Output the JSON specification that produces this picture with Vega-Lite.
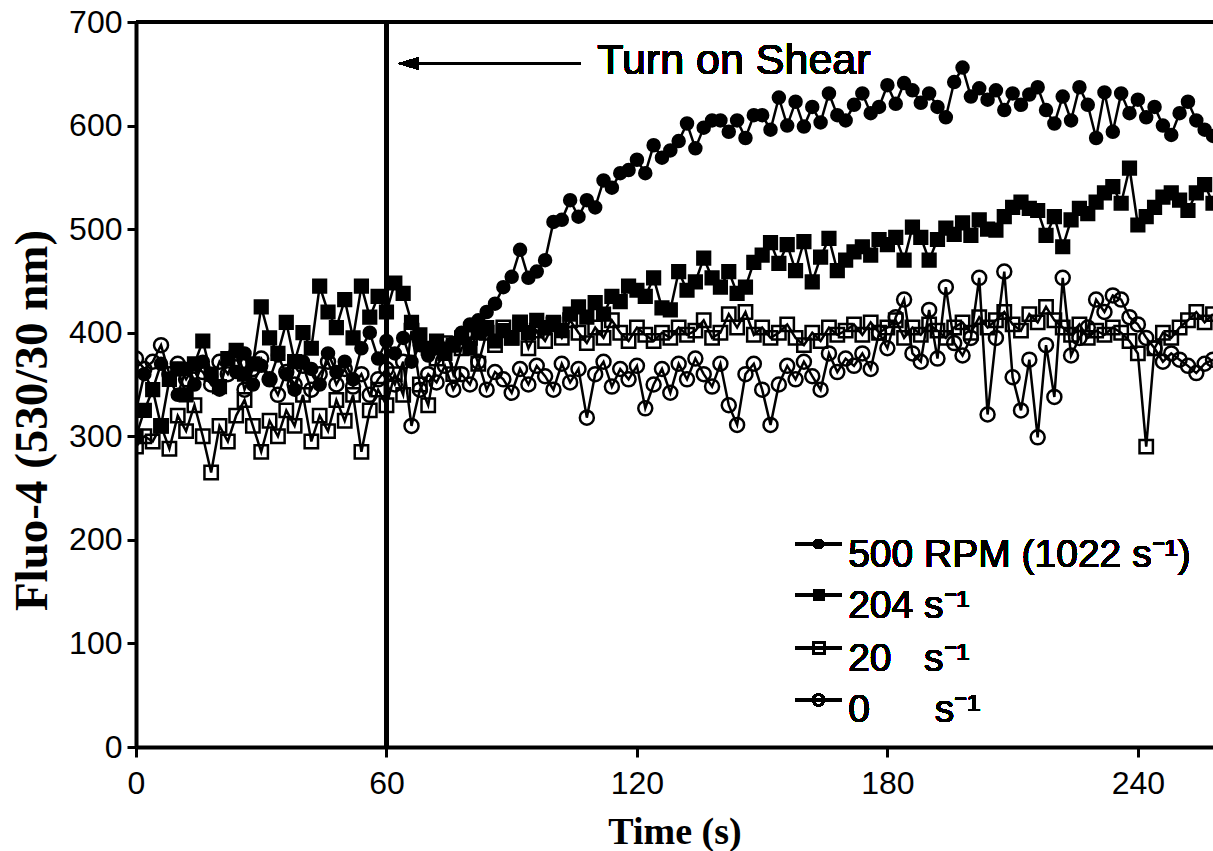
{
  "$schema": "https://vega.github.io/schema/vega-lite/v6.json",
  "width": 1077,
  "height": 725,
  "autosize": "none",
  "padding": {"left": 136, "top": 22, "right": 0, "bottom": 104},
  "background": "white",
  "config": {
    "view": {"stroke": null},
    "axis": {"grid": false, "domainColor": "black", "tickColor": "black", "labelColor": "black", "titleColor": "black"}
  },
  "data": {"values": [
{"s":"A","t":0,"v":325},{"s":"A","t":2,"v":360},{"s":"A","t":4,"v":345},{"s":"A","t":6,"v":370},{"s":"A","t":8,"v":355},{"s":"A","t":10,"v":340},{"s":"A","t":12,"v":365},{"s":"A","t":14,"v":350},{"s":"A","t":16,"v":372},{"s":"A","t":18,"v":358},{"s":"A","t":20,"v":345},{"s":"A","t":22,"v":375},{"s":"A","t":24,"v":362},{"s":"A","t":26,"v":380},{"s":"A","t":28,"v":350},{"s":"A","t":30,"v":368},{"s":"A","t":32,"v":355},{"s":"A","t":34,"v":378},{"s":"A","t":36,"v":360},{"s":"A","t":38,"v":345},{"s":"A","t":40,"v":372},{"s":"A","t":42,"v":365},{"s":"A","t":44,"v":350},{"s":"A","t":46,"v":380},{"s":"A","t":48,"v":362},{"s":"A","t":50,"v":372},{"s":"A","t":52,"v":355},{"s":"A","t":54,"v":385},{"s":"A","t":56,"v":400},{"s":"A","t":58,"v":375},
{"s":"A","t":60,"v":392},{"s":"A","t":62,"v":380},{"s":"A","t":64,"v":395},{"s":"A","t":66,"v":372},{"s":"A","t":68,"v":388},{"s":"A","t":70,"v":378},{"s":"A","t":72,"v":385},{"s":"A","t":74,"v":380},{"s":"A","t":76,"v":390},{"s":"A","t":78,"v":400},{"s":"A","t":80,"v":408},{"s":"A","t":82,"v":412},{"s":"A","t":84,"v":420},{"s":"A","t":86,"v":428},{"s":"A","t":88,"v":444},{"s":"A","t":90,"v":454},{"s":"A","t":92,"v":480},{"s":"A","t":94,"v":453},{"s":"A","t":96,"v":459},{"s":"A","t":98,"v":470},{"s":"A","t":100,"v":507},{"s":"A","t":102,"v":509},{"s":"A","t":104,"v":528},{"s":"A","t":106,"v":512},{"s":"A","t":108,"v":528},{"s":"A","t":110,"v":521},{"s":"A","t":112,"v":547},{"s":"A","t":114,"v":540},{"s":"A","t":116,"v":554},{"s":"A","t":118,"v":557},
{"s":"A","t":120,"v":567},{"s":"A","t":122,"v":554},{"s":"A","t":124,"v":581},{"s":"A","t":126,"v":569},{"s":"A","t":128,"v":576},{"s":"A","t":130,"v":585},{"s":"A","t":132,"v":602},{"s":"A","t":134,"v":578},{"s":"A","t":136,"v":598},{"s":"A","t":138,"v":605},{"s":"A","t":140,"v":605},{"s":"A","t":142,"v":594},{"s":"A","t":144,"v":605},{"s":"A","t":146,"v":588},{"s":"A","t":148,"v":610},{"s":"A","t":150,"v":610},{"s":"A","t":152,"v":596},{"s":"A","t":154,"v":627},{"s":"A","t":156,"v":600},{"s":"A","t":158,"v":623},{"s":"A","t":160,"v":599},{"s":"A","t":162,"v":618},{"s":"A","t":164,"v":603},{"s":"A","t":166,"v":631},{"s":"A","t":168,"v":610},{"s":"A","t":170,"v":605},{"s":"A","t":172,"v":620},{"s":"A","t":174,"v":631},{"s":"A","t":176,"v":612},{"s":"A","t":178,"v":618},
{"s":"A","t":180,"v":639},{"s":"A","t":182,"v":621},{"s":"A","t":184,"v":641},{"s":"A","t":186,"v":634},{"s":"A","t":188,"v":622},{"s":"A","t":190,"v":631},{"s":"A","t":192,"v":618},{"s":"A","t":194,"v":608},{"s":"A","t":196,"v":642},{"s":"A","t":198,"v":656},{"s":"A","t":200,"v":628},{"s":"A","t":202,"v":636},{"s":"A","t":204,"v":625},{"s":"A","t":206,"v":634},{"s":"A","t":208,"v":615},{"s":"A","t":210,"v":631},{"s":"A","t":212,"v":620},{"s":"A","t":214,"v":630},{"s":"A","t":216,"v":637},{"s":"A","t":218,"v":615},{"s":"A","t":220,"v":602},{"s":"A","t":222,"v":628},{"s":"A","t":224,"v":605},{"s":"A","t":226,"v":637},{"s":"A","t":228,"v":620},{"s":"A","t":230,"v":588},{"s":"A","t":232,"v":632},{"s":"A","t":234,"v":594},{"s":"A","t":236,"v":631},{"s":"A","t":238,"v":612},
{"s":"A","t":240,"v":625},{"s":"A","t":242,"v":608},{"s":"A","t":244,"v":618},{"s":"A","t":246,"v":600},{"s":"A","t":248,"v":591},{"s":"A","t":250,"v":612},{"s":"A","t":252,"v":623},{"s":"A","t":254,"v":605},{"s":"A","t":256,"v":596},{"s":"A","t":258,"v":590},
{"s":"B","t":0,"v":300},{"s":"B","t":2,"v":325},{"s":"B","t":4,"v":345},{"s":"B","t":6,"v":310},{"s":"B","t":8,"v":355},{"s":"B","t":10,"v":365},{"s":"B","t":12,"v":340},{"s":"B","t":14,"v":370},{"s":"B","t":16,"v":392},{"s":"B","t":18,"v":360},{"s":"B","t":20,"v":348},{"s":"B","t":22,"v":375},{"s":"B","t":24,"v":383},{"s":"B","t":26,"v":360},{"s":"B","t":28,"v":370},{"s":"B","t":30,"v":425},{"s":"B","t":32,"v":395},{"s":"B","t":34,"v":380},{"s":"B","t":36,"v":410},{"s":"B","t":38,"v":372},{"s":"B","t":40,"v":400},{"s":"B","t":42,"v":385},{"s":"B","t":44,"v":445},{"s":"B","t":46,"v":420},{"s":"B","t":48,"v":405},{"s":"B","t":50,"v":432},{"s":"B","t":52,"v":395},{"s":"B","t":54,"v":445},{"s":"B","t":56,"v":415},{"s":"B","t":58,"v":435},
{"s":"B","t":60,"v":420},{"s":"B","t":62,"v":448},{"s":"B","t":64,"v":438},{"s":"B","t":66,"v":410},{"s":"B","t":68,"v":398},{"s":"B","t":70,"v":385},{"s":"B","t":72,"v":392},{"s":"B","t":74,"v":380},{"s":"B","t":76,"v":388},{"s":"B","t":78,"v":395},{"s":"B","t":80,"v":385},{"s":"B","t":82,"v":400},{"s":"B","t":84,"v":405},{"s":"B","t":86,"v":392},{"s":"B","t":88,"v":402},{"s":"B","t":90,"v":395},{"s":"B","t":92,"v":408},{"s":"B","t":94,"v":400},{"s":"B","t":96,"v":412},{"s":"B","t":98,"v":405},{"s":"B","t":100,"v":410},{"s":"B","t":102,"v":402},{"s":"B","t":104,"v":418},{"s":"B","t":106,"v":425},{"s":"B","t":108,"v":415},{"s":"B","t":110,"v":429},{"s":"B","t":112,"v":418},{"s":"B","t":114,"v":435},{"s":"B","t":116,"v":430},{"s":"B","t":118,"v":445},
{"s":"B","t":120,"v":441},{"s":"B","t":122,"v":435},{"s":"B","t":124,"v":453},{"s":"B","t":126,"v":424},{"s":"B","t":128,"v":422},{"s":"B","t":130,"v":459},{"s":"B","t":132,"v":441},{"s":"B","t":134,"v":449},{"s":"B","t":136,"v":472},{"s":"B","t":138,"v":453},{"s":"B","t":140,"v":444},{"s":"B","t":142,"v":459},{"s":"B","t":144,"v":438},{"s":"B","t":146,"v":444},{"s":"B","t":148,"v":468},{"s":"B","t":150,"v":475},{"s":"B","t":152,"v":487},{"s":"B","t":154,"v":467},{"s":"B","t":156,"v":485},{"s":"B","t":158,"v":460},{"s":"B","t":160,"v":488},{"s":"B","t":162,"v":449},{"s":"B","t":164,"v":473},{"s":"B","t":166,"v":491},{"s":"B","t":168,"v":460},{"s":"B","t":170,"v":470},{"s":"B","t":172,"v":478},{"s":"B","t":174,"v":483},{"s":"B","t":176,"v":475},{"s":"B","t":178,"v":490},
{"s":"B","t":180,"v":485},{"s":"B","t":182,"v":492},{"s":"B","t":184,"v":470},{"s":"B","t":186,"v":502},{"s":"B","t":188,"v":492},{"s":"B","t":190,"v":470},{"s":"B","t":192,"v":490},{"s":"B","t":194,"v":501},{"s":"B","t":196,"v":495},{"s":"B","t":198,"v":506},{"s":"B","t":200,"v":494},{"s":"B","t":202,"v":509},{"s":"B","t":204,"v":500},{"s":"B","t":206,"v":499},{"s":"B","t":208,"v":512},{"s":"B","t":210,"v":521},{"s":"B","t":212,"v":526},{"s":"B","t":214,"v":520},{"s":"B","t":216,"v":518},{"s":"B","t":218,"v":494},{"s":"B","t":220,"v":512},{"s":"B","t":222,"v":483},{"s":"B","t":224,"v":509},{"s":"B","t":226,"v":520},{"s":"B","t":228,"v":515},{"s":"B","t":230,"v":526},{"s":"B","t":232,"v":535},{"s":"B","t":234,"v":541},{"s":"B","t":236,"v":525},{"s":"B","t":238,"v":559},
{"s":"B","t":240,"v":504},{"s":"B","t":242,"v":512},{"s":"B","t":244,"v":521},{"s":"B","t":246,"v":531},{"s":"B","t":248,"v":535},{"s":"B","t":250,"v":528},{"s":"B","t":252,"v":518},{"s":"B","t":254,"v":535},{"s":"B","t":256,"v":543},{"s":"B","t":258,"v":525},
{"s":"C","t":0,"v":290},{"s":"C","t":2,"v":300},{"s":"C","t":4,"v":295},{"s":"C","t":6,"v":310},{"s":"C","t":8,"v":288},{"s":"C","t":10,"v":320},{"s":"C","t":12,"v":305},{"s":"C","t":14,"v":330},{"s":"C","t":16,"v":300},{"s":"C","t":18,"v":265},{"s":"C","t":20,"v":310},{"s":"C","t":22,"v":295},{"s":"C","t":24,"v":320},{"s":"C","t":26,"v":335},{"s":"C","t":28,"v":310},{"s":"C","t":30,"v":285},{"s":"C","t":32,"v":315},{"s":"C","t":34,"v":300},{"s":"C","t":36,"v":325},{"s":"C","t":38,"v":310},{"s":"C","t":40,"v":340},{"s":"C","t":42,"v":295},{"s":"C","t":44,"v":320},{"s":"C","t":46,"v":305},{"s":"C","t":48,"v":335},{"s":"C","t":50,"v":315},{"s":"C","t":52,"v":340},{"s":"C","t":54,"v":285},{"s":"C","t":56,"v":325},{"s":"C","t":58,"v":345},
{"s":"C","t":60,"v":330},{"s":"C","t":62,"v":360},{"s":"C","t":64,"v":340},{"s":"C","t":66,"v":402},{"s":"C","t":68,"v":350},{"s":"C","t":70,"v":330},{"s":"C","t":72,"v":375},{"s":"C","t":74,"v":390},{"s":"C","t":76,"v":360},{"s":"C","t":78,"v":385},{"s":"C","t":80,"v":395},{"s":"C","t":82,"v":370},{"s":"C","t":84,"v":400},{"s":"C","t":86,"v":388},{"s":"C","t":88,"v":405},{"s":"C","t":90,"v":395},{"s":"C","t":92,"v":410},{"s":"C","t":94,"v":385},{"s":"C","t":96,"v":402},{"s":"C","t":98,"v":392},{"s":"C","t":100,"v":408},{"s":"C","t":102,"v":395},{"s":"C","t":104,"v":412},{"s":"C","t":106,"v":400},{"s":"C","t":108,"v":390},{"s":"C","t":110,"v":405},{"s":"C","t":112,"v":395},{"s":"C","t":114,"v":412},{"s":"C","t":116,"v":400},{"s":"C","t":118,"v":392},
{"s":"C","t":120,"v":405},{"s":"C","t":122,"v":398},{"s":"C","t":124,"v":392},{"s":"C","t":126,"v":400},{"s":"C","t":128,"v":395},{"s":"C","t":130,"v":405},{"s":"C","t":132,"v":398},{"s":"C","t":134,"v":402},{"s":"C","t":136,"v":412},{"s":"C","t":138,"v":395},{"s":"C","t":140,"v":400},{"s":"C","t":142,"v":418},{"s":"C","t":144,"v":405},{"s":"C","t":146,"v":420},{"s":"C","t":148,"v":398},{"s":"C","t":150,"v":405},{"s":"C","t":152,"v":395},{"s":"C","t":154,"v":400},{"s":"C","t":156,"v":408},{"s":"C","t":158,"v":395},{"s":"C","t":160,"v":388},{"s":"C","t":162,"v":400},{"s":"C","t":164,"v":392},{"s":"C","t":166,"v":405},{"s":"C","t":168,"v":398},{"s":"C","t":170,"v":402},{"s":"C","t":172,"v":408},{"s":"C","t":174,"v":398},{"s":"C","t":176,"v":410},{"s":"C","t":178,"v":400},
{"s":"C","t":180,"v":405},{"s":"C","t":182,"v":412},{"s":"C","t":184,"v":395},{"s":"C","t":186,"v":405},{"s":"C","t":188,"v":398},{"s":"C","t":190,"v":408},{"s":"C","t":192,"v":402},{"s":"C","t":194,"v":395},{"s":"C","t":196,"v":405},{"s":"C","t":198,"v":410},{"s":"C","t":200,"v":400},{"s":"C","t":202,"v":415},{"s":"C","t":204,"v":405},{"s":"C","t":206,"v":412},{"s":"C","t":208,"v":420},{"s":"C","t":210,"v":408},{"s":"C","t":212,"v":402},{"s":"C","t":214,"v":418},{"s":"C","t":216,"v":410},{"s":"C","t":218,"v":425},{"s":"C","t":220,"v":412},{"s":"C","t":222,"v":405},{"s":"C","t":224,"v":398},{"s":"C","t":226,"v":408},{"s":"C","t":228,"v":395},{"s":"C","t":230,"v":402},{"s":"C","t":232,"v":398},{"s":"C","t":234,"v":405},{"s":"C","t":236,"v":400},{"s":"C","t":238,"v":392},
{"s":"C","t":240,"v":380},{"s":"C","t":242,"v":290},{"s":"C","t":244,"v":385},{"s":"C","t":246,"v":400},{"s":"C","t":248,"v":395},{"s":"C","t":250,"v":405},{"s":"C","t":252,"v":412},{"s":"C","t":254,"v":420},{"s":"C","t":256,"v":410},{"s":"C","t":258,"v":418},
{"s":"D","t":0,"v":375},{"s":"D","t":2,"v":365},{"s":"D","t":4,"v":372},{"s":"D","t":6,"v":388},{"s":"D","t":8,"v":360},{"s":"D","t":10,"v":370},{"s":"D","t":12,"v":355},{"s":"D","t":14,"v":368},{"s":"D","t":16,"v":362},{"s":"D","t":18,"v":350},{"s":"D","t":20,"v":372},{"s":"D","t":22,"v":360},{"s":"D","t":24,"v":380},{"s":"D","t":26,"v":345},{"s":"D","t":28,"v":365},{"s":"D","t":30,"v":375},{"s":"D","t":32,"v":355},{"s":"D","t":34,"v":340},{"s":"D","t":36,"v":362},{"s":"D","t":38,"v":350},{"s":"D","t":40,"v":368},{"s":"D","t":42,"v":345},{"s":"D","t":44,"v":360},{"s":"D","t":46,"v":372},{"s":"D","t":48,"v":350},{"s":"D","t":50,"v":365},{"s":"D","t":52,"v":348},{"s":"D","t":54,"v":360},{"s":"D","t":56,"v":340},{"s":"D","t":58,"v":355},
{"s":"D","t":60,"v":365},{"s":"D","t":62,"v":350},{"s":"D","t":64,"v":372},{"s":"D","t":66,"v":310},{"s":"D","t":68,"v":345},{"s":"D","t":70,"v":360},{"s":"D","t":72,"v":352},{"s":"D","t":74,"v":368},{"s":"D","t":76,"v":345},{"s":"D","t":78,"v":360},{"s":"D","t":80,"v":350},{"s":"D","t":82,"v":372},{"s":"D","t":84,"v":345},{"s":"D","t":86,"v":362},{"s":"D","t":88,"v":355},{"s":"D","t":90,"v":342},{"s":"D","t":92,"v":365},{"s":"D","t":94,"v":350},{"s":"D","t":96,"v":368},{"s":"D","t":98,"v":358},{"s":"D","t":100,"v":345},{"s":"D","t":102,"v":370},{"s":"D","t":104,"v":352},{"s":"D","t":106,"v":365},{"s":"D","t":108,"v":318},{"s":"D","t":110,"v":360},{"s":"D","t":112,"v":372},{"s":"D","t":114,"v":348},{"s":"D","t":116,"v":365},{"s":"D","t":118,"v":355},
{"s":"D","t":120,"v":368},{"s":"D","t":122,"v":327},{"s":"D","t":124,"v":350},{"s":"D","t":126,"v":365},{"s":"D","t":128,"v":342},{"s":"D","t":130,"v":370},{"s":"D","t":132,"v":355},{"s":"D","t":134,"v":375},{"s":"D","t":136,"v":360},{"s":"D","t":138,"v":348},{"s":"D","t":140,"v":370},{"s":"D","t":142,"v":330},{"s":"D","t":144,"v":311},{"s":"D","t":146,"v":360},{"s":"D","t":148,"v":370},{"s":"D","t":150,"v":345},{"s":"D","t":152,"v":311},{"s":"D","t":154,"v":350},{"s":"D","t":156,"v":368},{"s":"D","t":158,"v":355},{"s":"D","t":160,"v":372},{"s":"D","t":162,"v":358},{"s":"D","t":164,"v":345},{"s":"D","t":166,"v":380},{"s":"D","t":168,"v":362},{"s":"D","t":170,"v":375},{"s":"D","t":172,"v":368},{"s":"D","t":174,"v":380},{"s":"D","t":176,"v":365},{"s":"D","t":178,"v":400},
{"s":"D","t":180,"v":385},{"s":"D","t":182,"v":415},{"s":"D","t":184,"v":432},{"s":"D","t":186,"v":380},{"s":"D","t":188,"v":372},{"s":"D","t":190,"v":422},{"s":"D","t":192,"v":375},{"s":"D","t":194,"v":444},{"s":"D","t":196,"v":390},{"s":"D","t":198,"v":378},{"s":"D","t":200,"v":395},{"s":"D","t":202,"v":453},{"s":"D","t":204,"v":321},{"s":"D","t":206,"v":395},{"s":"D","t":208,"v":459},{"s":"D","t":210,"v":357},{"s":"D","t":212,"v":325},{"s":"D","t":214,"v":374},{"s":"D","t":216,"v":299},{"s":"D","t":218,"v":388},{"s":"D","t":220,"v":338},{"s":"D","t":222,"v":453},{"s":"D","t":224,"v":378},{"s":"D","t":226,"v":395},{"s":"D","t":228,"v":405},{"s":"D","t":230,"v":432},{"s":"D","t":232,"v":420},{"s":"D","t":234,"v":436},{"s":"D","t":236,"v":432},{"s":"D","t":238,"v":415},
{"s":"D","t":240,"v":408},{"s":"D","t":242,"v":395},{"s":"D","t":244,"v":385},{"s":"D","t":246,"v":372},{"s":"D","t":248,"v":380},{"s":"D","t":250,"v":374},{"s":"D","t":252,"v":368},{"s":"D","t":254,"v":361},{"s":"D","t":256,"v":370},{"s":"D","t":258,"v":374}
  ]},
  "layer": [
    {
      "mark": {"type": "line", "color": "black", "strokeWidth": 2.5, "clip": true},
      "encoding": {
        "x": {"field": "t", "type": "quantitative", "scale": {"domain": [0, 258], "nice": false, "zero": false},
          "axis": {"values": [0, 60, 120, 180, 240], "tickSize": 10, "tickWidth": 3, "domainWidth": 4, "labelFont": "Liberation Sans", "labelFontSize": 32, "labelBaseline": "alphabetic", "labelPadding": 36, "labelFlush": false, "title": "Time (s)", "titleFont": "Liberation Serif", "titleFontWeight": "bold", "titleFontSize": 38, "titleBaseline": "alphabetic", "titleY": 96}},
        "y": {"field": "v", "type": "quantitative", "scale": {"domain": [0, 700], "nice": false},
          "axis": {"values": [0, 100, 200, 300, 400, 500, 600, 700], "tickSize": 9, "tickWidth": 3, "domainWidth": 4, "labelFont": "Liberation Sans", "labelFontSize": 32, "labelPadding": 5, "labelBaseline": "middle", "labelFlush": false, "title": "Fluo-4 (530/30 nm)", "titleFont": "Liberation Serif", "titleFontWeight": "bold", "titleFontSize": 47, "titleAngle": -90, "titleBaseline": "middle", "titleX": -104, "titleY": 398}},
        "detail": {"field": "s"}
      }
    },
    {
      "mark": {"type": "point", "filled": true, "stroke": "black", "strokeWidth": 2.5, "opacity": 1, "clip": true},
      "encoding": {
        "x": {"field": "t", "type": "quantitative"},
        "y": {"field": "v", "type": "quantitative"},
        "shape": {"field": "s", "type": "nominal", "scale": {"domain": ["A", "B", "C", "D"], "range": ["circle", "square", "square", "circle"]}, "legend": null},
        "fill": {"field": "s", "type": "nominal", "scale": {"domain": ["A", "B", "C", "D"], "range": ["black", "black", "transparent", "transparent"]}, "legend": null},
        "size": {"field": "s", "type": "nominal", "scale": {"domain": ["A", "B", "C", "D"], "range": [144, 196, 256, 256]}, "legend": null}
      }
    },
    {"mark": {"type": "rule", "color": "black", "strokeWidth": 3.5}, "encoding": {"x": {"datum": 60}}},
    {"mark": {"type": "rule", "color": "black", "strokeWidth": 4}, "encoding": {"y": {"datum": 700}}},
    {"mark": {"type": "rule", "color": "black", "strokeWidth": 3}, "encoding": {"x": {"datum": 65}, "x2": {"datum": 106.5}, "y": {"datum": 660}}},
    {"mark": {"type": "point", "shape": "M-1,0L1,-0.6L1,0.6Z", "filled": true, "color": "black", "opacity": 1, "size": 400}, "encoding": {"x": {"datum": 65.2}, "y": {"datum": 660}}},
    {"mark": {"type": "text", "text": "Turn on Shear", "font": "Liberation Sans", "fontSize": 43, "align": "left", "baseline": "alphabetic", "color": "black"}, "encoding": {"x": {"datum": 110.5}, "y": {"datum": 650}}},

    {"mark": {"type": "rule", "color": "black", "strokeWidth": 2.5}, "encoding": {"x": {"datum": 157.9}, "x2": {"datum": 169.1}, "y": {"datum": 196}}},
    {"mark": {"type": "point", "shape": "circle", "filled": true, "color": "black", "stroke": "black", "strokeWidth": 2, "opacity": 1, "size": 64}, "encoding": {"x": {"datum": 163.5}, "y": {"datum": 196}}},
    {"mark": {"type": "text", "text": "500 RPM (1022 s\u207b\u00b9)", "font": "Liberation Sans", "fontSize": 39, "align": "left", "baseline": "alphabetic", "color": "black"}, "encoding": {"x": {"datum": 170.6}, "y": {"datum": 173.8}}},

    {"mark": {"type": "rule", "color": "black", "strokeWidth": 2.5}, "encoding": {"x": {"datum": 157.9}, "x2": {"datum": 169.1}, "y": {"datum": 146.8}}},
    {"mark": {"type": "point", "shape": "square", "filled": true, "color": "black", "stroke": "black", "strokeWidth": 2, "opacity": 1, "size": 81}, "encoding": {"x": {"datum": 163.5}, "y": {"datum": 146.8}}},
    {"mark": {"type": "text", "text": "204 s\u207b\u00b9", "font": "Liberation Sans", "fontSize": 39, "align": "left", "baseline": "alphabetic", "color": "black"}, "encoding": {"x": {"datum": 170.6}, "y": {"datum": 124.6}}},

    {"mark": {"type": "rule", "color": "black", "strokeWidth": 2.5}, "encoding": {"x": {"datum": 157.9}, "x2": {"datum": 169.1}, "y": {"datum": 95.6}}},
    {"mark": {"type": "point", "shape": "square", "filled": false, "color": "black", "strokeWidth": 2, "opacity": 1, "size": 121}, "encoding": {"x": {"datum": 163.5}, "y": {"datum": 95.6}}},
    {"mark": {"type": "text", "text": "20\u00a0\u00a0\u00a0s\u207b\u00b9", "font": "Liberation Sans", "fontSize": 39, "align": "left", "baseline": "alphabetic", "color": "black"}, "encoding": {"x": {"datum": 170.6}, "y": {"datum": 73.4}}},

    {"mark": {"type": "rule", "color": "black", "strokeWidth": 2.5}, "encoding": {"x": {"datum": 157.9}, "x2": {"datum": 169.1}, "y": {"datum": 45.4}}},
    {"mark": {"type": "point", "shape": "circle", "filled": false, "color": "black", "strokeWidth": 2, "opacity": 1, "size": 121}, "encoding": {"x": {"datum": 163.5}, "y": {"datum": 45.4}}},
    {"mark": {"type": "text", "text": "0\u00a0\u00a0\u00a0\u00a0\u00a0\u00a0s\u207b\u00b9", "font": "Liberation Sans", "fontSize": 39, "align": "left", "baseline": "alphabetic", "color": "black"}, "encoding": {"x": {"datum": 170.6}, "y": {"datum": 24.1}}}
  ]
}
